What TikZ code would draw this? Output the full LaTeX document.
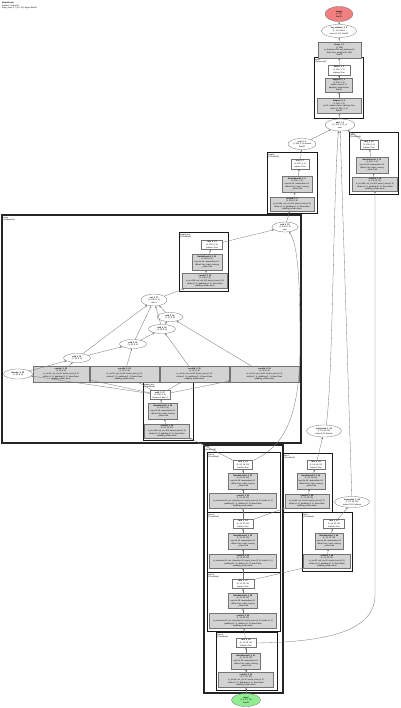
\documentclass[tikz,border=0pt]{standalone}
\usepackage{fontspec}
\setmainfont{Liberation Sans}
\usetikzlibrary{shapes.geometric,arrows.meta}
\definecolor{inred}{HTML}{F08080}
\definecolor{outgreen}{HTML}{90EE90}
\definecolor{boxgray}{HTML}{D3D3D3}
\newcommand{\Lx}[1]{\makebox[0pt]{#1}}
\newcommand{\Bx}[1]{\makebox[0pt]{\bfseries #1}}
\newcommand{\convtxt}[3]{\Bx{#1}\\\Lx{#2}\\\Lx{in\_ch=#3, out\_ch=#3, kernel\_size=(3, 3)}\\\Lx{stride=(1, 1), padding=(1, 1), bias=False}\\\Lx{padding\_mode=zeros}}
\newcommand{\convwide}[3]{\Bx{#1}\\\Lx{#2}\\\Lx{in\_channels=#3, out\_channels=#3, kernel\_size=(3, 3), stride=(1, 1)}\\\Lx{padding=(1, 1), dilation=(1, 1), bias=False}\\\Lx{padding\_mode=zeros}}
\newcommand{\bntxt}[2]{\Bx{#1}\\\Lx{#2}\\\Lx{eps=1e-05, momentum=0.1}\\\Lx{affine=True, track\_running}\\\Lx{\_stats=True}}
\newcommand{\acttxt}[2]{\Bx{#1}\\\Lx{#2}\\\Lx{inplace=True}}
\newcommand{\optxt}[2]{\Bx{#1}\\\Lx{#2}}
\tikzset{
  base/.style={inner sep=0pt, outer sep=0pt, align=center, line width=0.3pt, draw=black!55,
    font={\fontsize{2}{2.55}\selectfont}},
  wbox/.style={base, rectangle, fill=white},
  gbox/.style={base, rectangle, fill=boxgray},
  ell/.style={base, ellipse, fill=white},
  clus/.style={draw=black!90, line width=0.9pt, fill=white},
  bigclus/.style={draw=black!85, line width=1.2pt, fill=white},
  clabel/.style={inner sep=0pt, anchor=north west, align=left, font={\fontsize{2}{2.55}\selectfont}},
  edge/.style={draw=black!55, line width=0.3pt, -{Stealth[length=2.2pt,width=1.7pt]}},
  sz/.style 2 args={minimum width=#1pt, minimum height=#2pt},
}
\begin{document}
\begin{tikzpicture}[x=1pt,y=-1pt]
\useasboundingbox[fill=white] (0,0) rectangle (400,708);
% title
\node[clabel] (title) at (2,2) {\textbf{ModelGraph}\\depth=3, nodes=47\\input\_size=(1, 3, 32, 32), dtype=float32};
% clusters
\draw[clus] (314,57) rectangle (363,118);
\node[clabel] (lA) at (315,58.5) {head\\(Sequential)};
\draw[clus] (267,152) rectangle (317,213);
\node[clabel] (lB) at (268,153.5) {stage3\\(ConvBlock)};
\draw[clus] (349,132) rectangle (398,194);
\node[clabel] (lC) at (350,133.5) {skip3\\(ConvBlock)};
\draw[bigclus] (2,215) rectangle (301,443);
\node[clabel] (lD) at (3.5,216.5) {body\\(Sequential)};
\draw[clus] (179,232) rectangle (228,291);
\node[clabel] (lE) at (180,233.5) {stage2.proj\\(ConvBlock)};
\draw[clus] (143,382) rectangle (193,440);
\node[clabel] (lF) at (144,383.5) {stage1.proj\\(ConvBlock)};
\draw[bigclus] (204,445) rectangle (283,693);
\node[clabel] (lG) at (205,446) {stem\\(Sequential)};
\draw[clus] (207,452) rectangle (280,512);
\node[clabel] (lG1) at (208,453.5) {stem.3\\(ConvBlock)};
\draw[clus] (207,512) rectangle (280,572);
\node[clabel] (lG2) at (208,513.5) {stem.2\\(ConvBlock)};
\draw[clus] (207,572) rectangle (280,631);
\node[clabel] (lG3) at (208,573.5) {stem.1\\(ConvBlock)};
\draw[clus] (216,632) rectangle (277,690);
\node[clabel] (lG4) at (217,633.5) {stem.0\\(ConvBlock)};
\draw[clus] (283,453) rectangle (332,512);
\node[clabel] (lH) at (284,454.5) {skip1\\(ConvBlock)};
\draw[clus] (302,512) rectangle (352,571);
\node[clabel] (lI) at (303,513.5) {skip2\\(ConvBlock)};
% nodes
\node[ell, fill=inred, sz={28}{15}] (red) at (339,14) {\Bx{output}\\\Lx{(1, 10)}\\\Lx{float32}};
\node[ell, sz={35}{13}] (e1) at (339,31) {\Bx{log\_softmax\_1\_0}\\\Lx{(1, 10), dim=1}\\\Lx{return (1, 10), float32}};
\node[gbox, sz={43}{16}] (g0) at (339.5,50) {\Bx{linear\_1\_1}\\\Lx{(1, 256)}\\\Lx{in\_features=256, out\_features=10}\\\Lx{bias=True, weight=(10, 256)}\\\Lx{float32}};
\node[wbox, sz={22}{10}] (Aw) at (339,70) {\acttxt{flatten\_2\_2}{(1, 256, 1, 1)}};
\node[gbox, sz={27}{14}] (Ag) at (339,85) {\Bx{avgpool\_2\_3}\\\Lx{(1, 256, 4, 4)}\\\Lx{output\_size=(1, 1)}\\\Lx{adaptive, mode=mean}\\\Lx{float32}};
\node[gbox, sz={44}{15}] (Ag2) at (339,106) {\Bx{dropout\_2\_4}\\\Lx{(1, 256, 4, 4)}\\\Lx{p=0.2, inplace=False, training=True}\\\Lx{return (1, 256, 4, 4)}\\\Lx{float32}};
\node[ell, sz={30}{12}] (add) at (340,125) {\Bx{add\_1\_5}\\\Lx{(1, 256, 4, 4) x 3}\\\Lx{sum}};
\node[ell, sz={28}{11}] (left) at (302,144) {\Bx{relu\_2\_6}\\\Lx{(1, 256, 4, 4) inplace}\\\Lx{float32}};
\node[wbox, sz={18}{10}] (Bw) at (300,164) {\acttxt{relu\_3\_7}{(1, 256, 4, 4)}};
\node[gbox, sz={30}{16}] (Bg) at (297,184) {\bntxt{BatchNorm2d\_3\_8}{(1, 256, 4, 4)}};
\node[gbox, sz={44}{14}] (Bg2) at (292,204) {\convtxt{conv2d\_3\_9}{(1, 128, 8, 8)}{256}};
\node[wbox, sz={18}{9}] (Cw) at (369,145) {\acttxt{relu\_3\_10}{(1, 256, 4, 4)}};
\node[gbox, sz={32}{16}] (Cg) at (372,165) {\bntxt{BatchNorm2d\_3\_11}{(1, 256, 4, 4)}};
\node[gbox, sz={45}{14}] (Cg2) at (375,184) {\convtxt{conv2d\_3\_12}{(1, 64, 16, 16)}{256}};
\node[ell, sz={26}{10}] (P) at (285,227) {\Bx{add\_2\_13}\\\Lx{(1, 128, 8, 8)}\\\Lx{sum}};
\node[wbox, sz={21}{9}] (Ew) at (212,245) {\acttxt{relu\_3\_14}{(1, 128, 8, 8)}};
\node[gbox, sz={30}{16}] (Eg) at (207,262) {\bntxt{BatchNorm2d\_3\_15}{(1, 128, 8, 8)}};
\node[gbox, sz={45}{15}] (Eg2) at (205,281) {\convtxt{conv2d\_3\_16}{(1, 128, 8, 8)}{128}};
\node[ell, sz={26}{12}] (Q) at (154,300) {\Bx{cat\_2\_17}\\\Lx{(1, 128, 8, 8)}\\\Lx{dim=1}};
\node[ell, sz={26}{9}] (R) at (170,317) {\optxt{add\_3\_18}{(1, 32, 8, 8)}};
\node[ell, sz={27}{9}] (S) at (162,329) {\optxt{add\_3\_19}{(1, 32, 8, 8)}};
\node[ell, sz={27}{9}] (T) at (133,344) {\optxt{add\_3\_20}{(1, 32, 8, 8)}};
\node[ell, sz={27}{9}] (U) at (77,358) {\optxt{add\_3\_21}{(1, 32, 8, 8)}};
\node[ell, sz={29}{10}] (V) at (18,374) {\optxt{identity\_3\_22}{(1, 32, 8, 8)}};
\node[gbox, sz={56}{16}] (K1) at (61,374) {\convtxt{conv2d\_3\_23}{(1, 32, 8, 8)}{32}};
\node[gbox, sz={69}{16}] (K2) at (124.5,374) {\convtxt{conv2d\_3\_24}{(1, 32, 8, 8)}{32}};
\node[gbox, sz={69}{16}] (K3) at (194.5,374) {\convtxt{conv2d\_3\_25}{(1, 32, 8, 8)}{32}};
\node[gbox, sz={69}{16}] (K4) at (264.5,374) {\convtxt{conv2d\_3\_26}{(1, 32, 8, 8)}{32}};
\node[wbox, sz={20}{9}] (Fw) at (160,395) {\Bx{split\_3\_27}\\\Lx{(1, 128, 8, 8)}\\\Lx{chunks=4, dim=1}};
\node[gbox, sz={29}{16}] (Fg) at (163,411) {\bntxt{BatchNorm2d\_3\_28}{(1, 128, 8, 8)}};
\node[gbox, sz={45}{14}] (Fg2) at (167,431) {\convtxt{conv2d\_3\_29}{(1, 64, 16, 16)}{128}};
\node[ell, sz={35}{12}] (W) at (324,431) {\Bx{interpolate\_1\_30}\\\Lx{(1, 64, 16, 16)}\\\Lx{scale=0.25, bilinear}};
\node[wbox, sz={19}{9}] (G1w) at (243,465) {\acttxt{relu\_3\_31}{(1, 64, 16, 16)}};
\node[gbox, sz={29}{16}] (G1g) at (243,481) {\bntxt{BatchNorm2d\_3\_32}{(1, 64, 16, 16)}};
\node[gbox, sz={67}{15}] (G1g2) at (243,501) {\convwide{conv2d\_3\_33}{(1, 32, 32, 32)}{64}};
\node[wbox, sz={20}{9}] (G2w) at (243,524) {\acttxt{relu\_3\_34}{(1, 32, 32, 32)}};
\node[gbox, sz={29}{16}] (G2g) at (243,541) {\bntxt{BatchNorm2d\_3\_35}{(1, 32, 32, 32)}};
\node[gbox, sz={67}{14}] (G2g2) at (243,561) {\convwide{conv2d\_3\_36}{(1, 32, 32, 32)}{32}};
\node[wbox, sz={22}{9}] (G3w) at (243,584) {\acttxt{relu\_3\_37}{(1, 32, 32, 32)}};
\node[gbox, sz={29}{15}] (G3g) at (243,601) {\bntxt{BatchNorm2d\_3\_38}{(1, 32, 32, 32)}};
\node[gbox, sz={67}{15}] (G3g2) at (243,621) {\convwide{conv2d\_3\_39}{(1, 16, 32, 32)}{32}};
\node[wbox, sz={20}{9}] (G4w) at (246,643) {\acttxt{relu\_3\_40}{(1, 16, 32, 32)}};
\node[gbox, sz={29}{16}] (G4g) at (246,661) {\bntxt{BatchNorm2d\_3\_41}{(1, 16, 32, 32)}};
\node[gbox, sz={55}{15}] (G4g2) at (246,680) {\convtxt{conv2d\_3\_42}{(1, 3, 32, 32)}{16}};
\node[wbox, sz={18}{9}] (Hw) at (316,465) {\acttxt{relu\_3\_43}{(1, 64, 16, 16)}};
\node[gbox, sz={28}{16}] (Hg) at (311,481) {\bntxt{BatchNorm2d\_3\_44}{(1, 64, 16, 16)}};
\node[gbox, sz={44}{14}] (Hg2) at (307,501) {\convtxt{conv2d\_3\_45}{(1, 32, 32, 32)}{64}};
\node[ell, sz={35}{11}] (X) at (352,502) {\Bx{interpolate\_1\_46}\\\Lx{(1, 32, 32, 32)}\\\Lx{scale=0.125, bilinear}};
\node[wbox, sz={21}{9}] (Iw) at (334,524) {\acttxt{relu\_3\_47}{(1, 32, 32, 32)}};
\node[gbox, sz={28}{16}] (Ig) at (329,541) {\bntxt{BatchNorm2d\_3\_48}{(1, 32, 32, 32)}};
\node[gbox, sz={47}{14}] (Ig2) at (327,561) {\convtxt{conv2d\_3\_49}{(1, 16, 32, 32)}{32}};
\node[ell, fill=outgreen, sz={29}{13}] (green) at (246,700) {\Bx{input}\\\Lx{(1, 3, 32, 32)}\\\Lx{float32}};
% edges (pointing upwards)
\draw[edge] (e1) -- (red);
\draw[edge] (g0) -- (e1);
\draw[edge] (Aw) -- (g0);
\draw[edge] (Ag) -- (Aw);
\draw[edge] (Ag2) -- (Ag);
\draw[edge] (add) -- (Ag2);
\draw[edge] (left) -- (add);
\draw[edge] (Cw) -- (add);
\draw[edge] (Bw) -- (left);
\draw[edge] (Bg) -- (Bw);
\draw[edge] (Bg2) -- (Bg);
\draw[edge] (Cg) -- (Cw);
\draw[edge] (Cg2) -- (Cg);
\draw[edge] (P) -- (Bg2);
\draw[edge] (Ew) -- (P);
\draw[edge] (Eg) -- (Ew);
\draw[edge] (Eg2) -- (Eg);
\draw[edge] (Q) -- (Eg2);
\draw[edge] (U) -- (Q);
\draw[edge] (T) -- (Q);
\draw[edge] (S) -- (Q);
\draw[edge] (R) -- (Q);
\draw[edge] (U) -- (T);
\draw[edge] (T) -- (S);
\draw[edge] (S) -- (R);
\draw[edge] (V) -- (U);
\draw[edge] (K1) -- (U);
\draw[edge] (K2) -- (T);
\draw[edge] (K3) -- (S);
\draw[edge] (K4) -- (R);
\draw[edge] (Fw) -- (V);
\draw[edge] (Fw) -- (K1);
\draw[edge] (Fw) -- (K2);
\draw[edge] (Fw) -- (K3);
\draw[edge] (Fw) -- (K4);
\draw[edge] (Fg) -- (Fw);
\draw[edge] (Fg2) -- (Fg);
\draw[edge] (G1w.north west) -- (Fg2.south east);
\draw[edge] (G1w.north east) .. controls (285,447) and (300,415) .. (300,345) .. controls (300,280) and (298,245) .. (P.-50);
\draw[edge] (G1g) -- (G1w);
\draw[edge] (G1g2) -- (G1g);
\draw[edge] (G2w) -- (G1g2);
\draw[edge] (G2w.north east) -- (Hg2.south west);
\draw[edge] (G2g) -- (G2w);
\draw[edge] (G2g2) -- (G2g);
\draw[edge] (Hw) -- (W);
\draw[edge] (W.70) .. controls (333,380) and (333,200) .. (add.-105);
\draw[edge] (Hg) -- (Hw);
\draw[edge] (Hg2) -- (Hg);
\draw[edge] (Iw) -- (X);
\draw[edge] (X) -- (add);
\draw[edge] (Ig) -- (Iw);
\draw[edge] (Ig2) -- (Ig);
\draw[edge] (G3w) -- (G2g2);
\draw[edge] (G3w.north east) -- (Ig2.south west);
\draw[edge] (G3g) -- (G3w);
\draw[edge] (G3g2) -- (G3g);
\draw[edge] (G4w) -- (G3g2);
\draw[edge] (G4w.east) .. controls (330,642) and (375,630) .. (375,595) -- (Cg2.south);
\draw[edge] (G4g) -- (G4w);
\draw[edge] (G4g2) -- (G4g);
\draw[edge] (green) -- (G4g2);
\end{tikzpicture}
\end{document}
